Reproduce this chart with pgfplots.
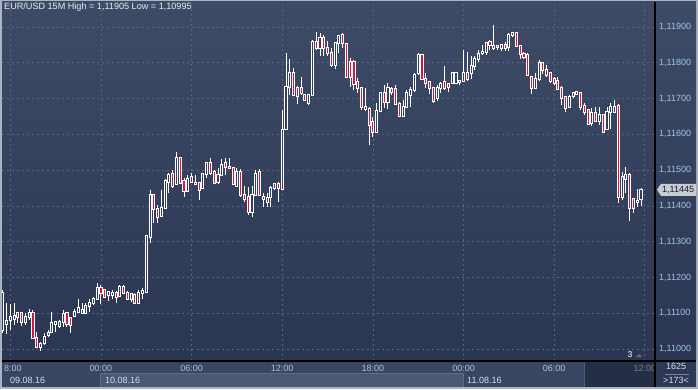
\documentclass[border=0pt]{standalone}
\usepackage{pgfplots}
\pgfplotsset{compat=1.18}
\usepackage{pgfplotstable}
\usepackage{fontspec}
\setmainfont{Liberation Sans}
\definecolor{frame}{RGB}{172,180,194}
\definecolor{bgtop}{RGB}{62,75,102}
\definecolor{bgbot}{RGB}{42,54,82}
\definecolor{gridc}{RGB}{86,100,130}
\definecolor{lbl}{RGB}{160,196,232}
\definecolor{datel}{RGB}{214,222,236}
\definecolor{cred}{RGB}{218,20,60}
\definecolor{hollow}{RGB}{50,62,90}
\definecolor{rowa}{RGB}{57,70,98}
\definecolor{rowb}{RGB}{75,88,116}
\definecolor{rowdark}{RGB}{36,47,70}
\definecolor{boxr}{RGB}{45,57,84}
\definecolor{tagc}{RGB}{200,204,212}
\pgfplotstableread{
i o h l c
1 1.11053 1.11165 1.11045 1.11157
2 1.11070 1.11129 1.11042 1.11078
3 1.11081 1.11126 1.11053 1.11089
4 1.11084 1.11129 1.11067 1.11092
5 1.11089 1.11103 1.11073 1.11101
6 1.11101 1.11103 1.11064 1.11075
7 1.11075 1.11101 1.11067 1.11089
8 1.11089 1.11112 1.11081 1.11101
9 1.11101 1.11109 1.11031 1.11031
10 1.11031 1.11048 1.11003 1.11006
11 1.11006 1.11020 1.10995 1.11014
12 1.11017 1.11045 1.11011 1.11034
13 1.11039 1.11053 1.11034 1.11045
14 1.11048 1.11103 1.11045 1.11073
15 1.11070 1.11078 1.11048 1.11075
16 1.11064 1.11081 1.11059 1.11075
17 1.11075 1.11109 1.11061 1.11098
18 1.11101 1.11103 1.11061 1.11070
19 1.11087 1.11089 1.11045 1.11067
20 1.11092 1.11112 1.11089 1.11103
21 1.11103 1.11140 1.11101 1.11115
22 1.11101 1.11129 1.11098 1.11109
23 1.11101 1.11129 1.11098 1.11120
24 1.11120 1.11140 1.11103 1.11129
25 1.11129 1.11145 1.11123 1.11140
26 1.11140 1.11184 1.11137 1.11171
27 1.11171 1.11179 1.11126 1.11157
28 1.11165 1.11168 1.11143 1.11145
29 1.11151 1.11162 1.11134 1.11159
30 1.11151 1.11165 1.11140 1.11157
31 1.11157 1.11162 1.11129 1.11145
32 1.11148 1.11179 1.11145 1.11173
33 1.11173 1.11179 1.11154 1.11157
34 1.11157 1.11162 1.11137 1.11140
35 1.11140 1.11157 1.11131 1.11154
36 1.11151 1.11157 1.11126 1.11129
37 1.11129 1.11165 1.11129 1.11157
38 1.11157 1.11171 1.11140 1.11162
39 1.11159 1.11319 1.11157 1.11316
40 1.11313 1.11444 1.11296 1.11430
41 1.11430 1.11433 1.11352 1.11391
42 1.11391 1.11402 1.11352 1.11369
43 1.11372 1.11444 1.11369 1.11394
44 1.11394 1.11475 1.11391 1.11470
45 1.11467 1.11492 1.11436 1.11486
46 1.11489 1.11500 1.11450 1.11456
47 1.11461 1.11551 1.11458 1.11534
48 1.11534 1.11537 1.11461 1.11464
49 1.11470 1.11478 1.11425 1.11442
50 1.11442 1.11486 1.11439 1.11475
51 1.11481 1.11492 1.11464 1.11467
52 1.11461 1.11486 1.11458 1.11464
53 1.11464 1.11467 1.11416 1.11444
54 1.11450 1.11492 1.11447 1.11489
55 1.11489 1.11523 1.11478 1.11520
56 1.11520 1.11534 1.11486 1.11492
57 1.11495 1.11500 1.11461 1.11464
58 1.11467 1.11506 1.11461 1.11486
59 1.11486 1.11531 1.11484 1.11514
60 1.11520 1.11534 1.11486 1.11509
61 1.11509 1.11534 1.11503 1.11506
62 1.11506 1.11509 1.11458 1.11461
63 1.11456 1.11506 1.11453 1.11495
64 1.11495 1.11503 1.11425 1.11430
65 1.11430 1.11456 1.11411 1.11419
66 1.11425 1.11453 1.11375 1.11383
67 1.11383 1.11456 1.11369 1.11430
68 1.11430 1.11500 1.11428 1.11489
69 1.11495 1.11503 1.11428 1.11430
70 1.11425 1.11436 1.11397 1.11419
71 1.11411 1.11436 1.11397 1.11422
72 1.11425 1.11456 1.11397 1.11450
73 1.11450 1.11464 1.11444 1.11461
74 1.11461 1.11467 1.11411 1.11450
75 1.11447 1.11668 1.11444 1.11612
76 1.11615 1.11827 1.11612 1.11732
77 1.11732 1.11811 1.11710 1.11771
78 1.11771 1.11785 1.11707 1.11710
79 1.11730 1.11735 1.11685 1.11707
80 1.11730 1.11760 1.11710 1.11716
81 1.11710 1.11713 1.11693 1.11696
82 1.11688 1.11713 1.11682 1.11710
83 1.11710 1.11864 1.11707 1.11858
84 1.11858 1.11886 1.11836 1.11841
85 1.11841 1.11883 1.11819 1.11869
86 1.11869 1.11878 1.11819 1.11841
87 1.11841 1.11861 1.11819 1.11827
88 1.11827 1.11841 1.11788 1.11794
89 1.11794 1.11858 1.11783 1.11855
90 1.11855 1.11878 1.11827 1.11875
91 1.11878 1.11883 1.11841 1.11855
92 1.11852 1.11855 1.11757 1.11760
93 1.11802 1.11813 1.11732 1.11760
94 1.11802 1.11808 1.11724 1.11741
95 1.11746 1.11757 1.11716 1.11730
96 1.11730 1.11732 1.11668 1.11676
97 1.11676 1.11730 1.11665 1.11671
98 1.11671 1.11676 1.11570 1.11626
99 1.11634 1.11648 1.11593 1.11607
100 1.11607 1.11688 1.11604 1.11665
101 1.11665 1.11718 1.11662 1.11716
102 1.11716 1.11738 1.11674 1.11690
103 1.11690 1.11743 1.11671 1.11730
104 1.11727 1.11732 1.11710 1.11718
105 1.11727 1.11738 1.11682 1.11685
106 1.11685 1.11690 1.11648 1.11651
107 1.11651 1.11696 1.11648 1.11676
108 1.11676 1.11724 1.11674 1.11716
109 1.11710 1.11732 1.11676 1.11724
110 1.11724 1.11771 1.11718 1.11766
111 1.11771 1.11827 1.11766 1.11822
112 1.11822 1.11825 1.11752 1.11755
113 1.11755 1.11771 1.11730 1.11743
114 1.11746 1.11749 1.11713 1.11730
115 1.11730 1.11732 1.11688 1.11693
116 1.11702 1.11738 1.11693 1.11730
117 1.11730 1.11746 1.11716 1.11741
118 1.11746 1.11791 1.11724 1.11730
119 1.11741 1.11743 1.11718 1.11732
120 1.11743 1.11774 1.11741 1.11771
121 1.11743 1.11774 1.11741 1.11771
122 1.11746 1.11749 1.11738 1.11749
123 1.11749 1.11836 1.11746 1.11771
124 1.11771 1.11830 1.11749 1.11755
125 1.11771 1.11819 1.11755 1.11791
126 1.11791 1.11819 1.11780 1.11811
127 1.11811 1.11836 1.11802 1.11825
128 1.11827 1.11850 1.11822 1.11830
129 1.11830 1.11858 1.11822 1.11855
130 1.11858 1.11864 1.11836 1.11850
131 1.11841 1.11905 1.11836 1.11847
132 1.11847 1.11850 1.11836 1.11844
133 1.11841 1.11852 1.11833 1.11850
134 1.11850 1.11858 1.11833 1.11841
135 1.11844 1.11883 1.11833 1.11878
136 1.11878 1.11886 1.11872 1.11883
137 1.11883 1.11886 1.11844 1.11847
138 1.11847 1.11850 1.11811 1.11825
139 1.11825 1.11830 1.11811 1.11816
140 1.11822 1.11827 1.11763 1.11766
141 1.11760 1.11763 1.11713 1.11730
142 1.11730 1.11771 1.11727 1.11755
143 1.11755 1.11808 1.11749 1.11799
144 1.11799 1.11802 1.11769 1.11780
145 1.11780 1.11794 1.11760 1.11766
146 1.11771 1.11774 1.11743 1.11749
147 1.11755 1.11760 1.11738 1.11743
148 1.11749 1.11760 1.11724 1.11727
149 1.11730 1.11735 1.11682 1.11702
150 1.11704 1.11707 1.11662 1.11674
151 1.11676 1.11710 1.11674 1.11704
152 1.11707 1.11718 1.11702 1.11716
153 1.11713 1.11721 1.11710 1.11718
154 1.11716 1.11718 1.11668 1.11676
155 1.11679 1.11688 1.11654 1.11662
156 1.11668 1.11671 1.11626 1.11629
157 1.11632 1.11674 1.11623 1.11660
158 1.11660 1.11676 1.11634 1.11637
159 1.11637 1.11676 1.11626 1.11654
160 1.11654 1.11657 1.11604 1.11607
161 1.11615 1.11676 1.11612 1.11662
162 1.11662 1.11688 1.11615 1.11676
163 1.11662 1.11696 1.11660 1.11676
164 1.11679 1.11685 1.11408 1.11425
165 1.11425 1.11495 1.11416 1.11481
166 1.11475 1.11509 1.11436 1.11486
167 1.11486 1.11492 1.11358 1.11394
168 1.11419 1.11422 1.11380 1.11394
169 1.11411 1.11447 1.11397 1.11414
170 1.11419 1.11450 1.11400 1.11445
}\candles
\begin{document}
\begin{tikzpicture}[x=1pt,y=1pt]
\fill[frame] (0,0) rectangle (698,389);
\shade[top color=bgtop, bottom color=bgbot] (2,28) rectangle (696,387);
% time axis rows
\fill[rowa] (2,2) rectangle (655,28);
\fill[rowb] (100,2) rectangle (463,16);
\draw[color={rgb,255:red,95;green,108;blue,135}, line width=0.6pt] (100,2) -- (100,16) -- (463,16) -- (463,2);
\fill[rowdark] (584,2) rectangle (655,28);
\draw[color={rgb,255:red,80;green,92;blue,118}, line width=0.8pt] (584,2) -- (584,28);
\fill[boxr] (655,2) rectangle (696,28);
\begin{axis}[
  at={(2pt,28pt)}, anchor=south west,
  scale only axis, width=653pt, height=359pt,
  xmin=0.8, xmax=173.7, ymin=1.109665, ymax=1.119698,
  axis line style={draw=none},
  tick style={draw=none},
  major tick length=0pt,
  scaled y ticks=false,
  xtick={3,27,51,75,99,123,147,171},
  xticklabels={18:00,00:00,06:00,12:00,18:00,00:00,06:00,{\color{gray}12:00}},
  xticklabel style={anchor=base, yshift=-10pt, inner sep=0pt, font=\fontsize{9}{10}\selectfont, text=lbl},
  ytick={1.110,1.111,1.112,1.113,1.114,1.115,1.116,1.117,1.118,1.119},
  yticklabel pos=right,
  yticklabel style={anchor=west, inner sep=0pt, xshift=4pt, font=\fontsize{9}{10}\selectfont, text=lbl,
    /pgf/number format/fixed, /pgf/number format/fixed zerofill,
    /pgf/number format/precision=5, /pgf/number format/use comma,
    /pgf/number format/assume math mode=true},
  grid=major,
  major grid style={draw=gridc, line width=0.7pt, dash pattern=on 2pt off 3pt},
]
% wicks
\addplot[draw=none, mark=none, forget plot,
  error bars/.cd, y dir=plus, y explicit, error mark=none,
  error bar style={draw=white, line width=1pt}]
  table[x=i, y=l, y error plus expr={\thisrow{h}-\thisrow{l}}] {\candles};
% body outline
\addplot[draw=none, mark=none, forget plot,
  error bars/.cd, y dir=plus, y explicit, error mark=none,
  error bar style={draw=white, line width=3.1pt}]
  table[x=i, y expr={min(\thisrow{o},\thisrow{c})-0.00003},
    y error plus expr={abs(\thisrow{c}-\thisrow{o})+0.00006}] {\candles};
% bearish interior
\addplot[draw=none, mark=none, forget plot,
  error bars/.cd, y dir=plus, y explicit, error mark=none,
  error bar style={draw=cred, line width=1.1pt}]
  table[x=i, y expr={ifthenelse(\thisrow{c}<\thisrow{o},\thisrow{c},nan)},
    y error plus expr={\thisrow{o}-\thisrow{c}}] {\candles};
% bullish interior
\addplot[draw=none, mark=none, forget plot,
  error bars/.cd, y dir=plus, y explicit, error mark=none,
  error bar style={draw=hollow, line width=1.1pt}]
  table[x=i, y expr={ifthenelse(\thisrow{c}>\thisrow{o},\thisrow{o},nan)},
    y error plus expr={\thisrow{c}-\thisrow{o}}] {\candles};
\coordinate (cp) at (axis cs:173.7,1.11445);
\end{axis}
% hide the clipped left part of the first time label
\fill[frame] (0,2) rectangle (2,28);
\fill[rowa] (2,2) rectangle (4,28);
\fill[rowa] (2,16) rectangle (4,28);
% right bottom box
\fill[boxr] (656,2) rectangle (696,27.5);
\node[anchor=base, inner sep=0pt, font=\fontsize{9}{10}\selectfont, text=datel] at (676,19.5) {1625};
\draw[color={rgb,255:red,120;green,132;blue,155}, line width=0.7pt] (665,15) -- (689,15);
\node[anchor=base, inner sep=0pt, font=\fontsize{9}{10}\selectfont, text=datel] at (676,6) {>173<};
% date labels
\node[anchor=base west, inner sep=0pt, font=\fontsize{9}{10}\selectfont, text=datel] at (10,6) {09.08.16};
\node[anchor=base west, inner sep=0pt, font=\fontsize{9}{10}\selectfont, text=datel] at (105,6) {10.08.16};
\node[anchor=base west, inner sep=0pt, font=\fontsize{9}{10}\selectfont, text=datel] at (467,6) {11.08.16};
% black separators
\draw[black, line width=1.2pt] (2,28) -- (696,28);
\draw[black, line width=1.2pt] (655,2) -- (655,387);
% price tag
\fill[tagc] ([xshift=2pt]cp) -- ++(4,6) -- ++(35,0) -- ++(0,-12) -- ++(-35,0) -- cycle;
\node[anchor=west, inner sep=0pt, font=\fontsize{9}{10}\selectfont, text={rgb,255:red,25;green,25;blue,30}] at ([xshift=7pt]cp) {1,11445};
% title
\node[anchor=base west, inner sep=0pt, font=\fontsize{9.1}{10}\selectfont, text={rgb,255:red,232;green,238;blue,246}] at (4,379) {EUR/USD 15M High = 1,11905 Low = 1,10995};
% marker
\node[anchor=base, inner sep=0pt, font=\fontsize{8.5}{10}\selectfont, text=white] at (630,32) {3};
\fill[color={rgb,255:red,100;green,110;blue,130}] (636,32) -- (642,32) -- (639,35) -- cycle;
\pgfresetboundingbox
\useasboundingbox (0,0) rectangle (698,389);
\end{tikzpicture}
\end{document}
